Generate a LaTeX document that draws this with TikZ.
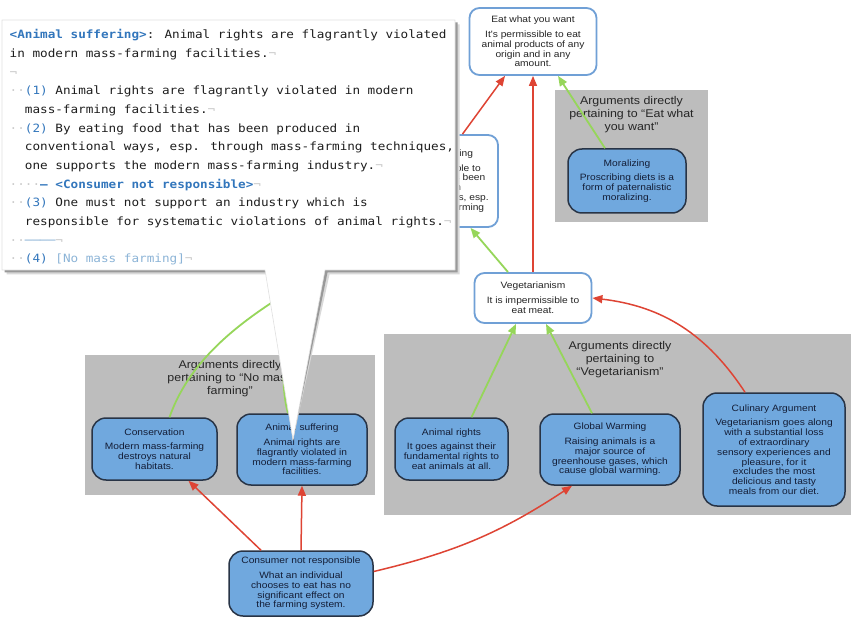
\documentclass[tikz,border=0pt]{standalone}
\usepackage{fontspec}
\usepackage{tikz}
\usetikzlibrary{arrows.meta}
\setmainfont{Liberation Sans}
\newfontfamily\diagfont[FakeStretch=1.11]{Liberation Sans}
\newfontfamily\codefont[FakeStretch=1.11]{DejaVu Sans Mono}

\begin{document}
\begin{tikzpicture}
		[x=1pt,y=-1pt,line join=round,
		%Styles
		claim/.style={draw=claimline,fill=white,line width=1.8pt,rounded corners=10pt,align=center,text=black!85,font=\diagfont\fontsize{9.2}{9.8}\selectfont,inner sep=0pt},
		argument/.style={draw=argline,fill=argfill,line width=1.5pt,rounded corners=14pt,align=center,text=argtext,font=\diagfont\fontsize{9.2}{9.8}\selectfont,inner sep=0pt},
		group/.style={fill=groupgray,inner sep=0pt},
		group title/.style={align=center,text=black!85,font=\diagfont\fontsize{11.2}{13}\selectfont},
		attack/.style={draw=attackred,line width=1.5pt,-{Triangle[length=10pt,width=8pt]}},
		support/.style={draw=supportgreen,line width=1.8pt,-{Triangle[length=10pt,width=8pt]}},
		code line/.style={anchor=base west,inner sep=0pt,text=codetext,font=\codefont\fontsize{11.4}{13}\selectfont}
		]
		
		%Colors
		\definecolor{claimline}{RGB}{112,160,214}
		\definecolor{argline}{RGB}{40,52,70}
		\definecolor{argfill}{RGB}{112,168,222}
		\definecolor{argtext}{RGB}{20,30,55}
		\definecolor{groupgray}{RGB}{189,189,189}
		\definecolor{attackred}{RGB}{222,68,52}
		\definecolor{supportgreen}{RGB}{150,214,90}
		\definecolor{codetext}{RGB}{30,30,30}
		\definecolor{codeblue}{RGB}{50,118,188}
		\definecolor{lightcode}{RGB}{140,180,215}
		\definecolor{markgray}{RGB}{200,200,200}
		
		\fill[white] (0,0) rectangle (851,620);
		\useasboundingbox (0,0) rectangle (851,620);
		
		%Groups
		\node[group,minimum width=153pt,minimum height=132pt] (grpeat) at (631.5,156) {};
		\node[group title] (grpeatlabel) at (631.5,115) {Arguments directly\\pertaining to “Eat what\\you want”};
		\node[group,minimum width=467pt,minimum height=181pt] (grpveg) at (617.5,424.5) {};
		\node[group title] (grpveglabel) at (620,360) {Arguments directly\\pertaining to\\“Vegetarianism”};
		\node[group,minimum width=290pt,minimum height=140pt] (grpmass) at (230,425) {};
		\node[group title] (grpmasslabel) at (230,379) {Arguments directly\\pertaining to “No mass\\farming”};
		
		%Statements
		\node[claim,minimum width=127pt,minimum height=67pt] (eat) at (533,41.5) {Eat what you want\\[5pt]It's permissible to eat\\animal products of any\\origin and in any\\amount.};
		\node[claim,minimum width=127pt,minimum height=92pt] (nomass) at (434.5,181) {No mass farming\\[5pt]It is impermissible to\\eat food that has been\\produced in\\conventional ways, esp.\\through mass-farming};
		\node[claim,minimum width=117pt,minimum height=50pt] (veg) at (533,298) {Vegetarianism\\[5pt]It is impermissible to\\eat meat.};
		
		%Arguments
		\node[argument,minimum width=118pt,minimum height=64pt] (moral) at (627,181) {Moralizing\\[5pt]Proscribing diets is a\\form of paternalistic\\moralizing.};
		\node[argument,minimum width=113pt,minimum height=62pt] (rights) at (451.5,449) {Animal rights\\[5pt]It goes against their\\fundamental rights to\\eat animals at all.};
		\node[argument,minimum width=140pt,minimum height=71pt] (warming) at (610,449.5) {Global Warming\\[5pt]Raising animals is a\\major source of\\greenhouse gases, which\\cause global warming.};
		\node[argument,minimum width=142pt,minimum height=113pt] (culinary) at (774,449.5) {Culinary Argument\\[5pt]Vegetarianism goes along\\with a substantial loss\\of extraordinary\\sensory experiences and\\pleasure, for it\\excludes the most\\delicious and tasty\\meals from our diet.};
		\node[argument,minimum width=125pt,minimum height=62pt] (conserv) at (154.5,449) {Conservation\\[5pt]Modern mass-farming\\destroys natural\\habitats.};
		\node[argument,minimum width=130pt,minimum height=71pt] (suffering) at (302,449.5) {Animal suffering\\[5pt]Animal rights are\\flagrantly violated in\\modern mass-farming\\facilities.};
		\node[argument,minimum width=144pt,minimum height=65pt] (consumer) at (301,583.5) {Consumer not responsible\\[5pt]What an individual\\chooses to eat has no\\significant effect on\\the farming system.};
		
		%Relations
		\draw[attack] ([xshift=28pt]nomass.north) -- ([xshift=-28pt]eat.south);
		\draw[attack] (veg.north) -- (eat.south);
		\draw[support] ([xshift=-22pt]moral.north) -- ([xshift=25pt]eat.south);
		\draw[support] ([xshift=-25pt]veg.north) -- ([xshift=36pt]nomass.south);
		\draw[attack] ([xshift=-29pt]culinary.north) to[bend right=25] (veg.east);
		\draw[support] ([xshift=20pt]rights.north) -- ([xshift=-17pt]veg.south);
		\draw[support] ([xshift=-18pt]warming.north) -- ([xshift=13pt]veg.south);
		\draw[attack] ([xshift=-40pt]consumer.north) -- ([xshift=34pt]conserv.south);
		\draw[attack] (consumer.north) -- (suffering.south);
		\draw[attack] ([yshift=12pt]consumer.east) to[bend right=10] ([xshift=-38pt]warming.south);
		\draw[support] ([xshift=15pt]conserv.north) .. controls (200,330) and (300,285) .. ([xshift=-30pt]nomass.south);
		\draw[support] ([xshift=-14pt]suffering.north) .. controls (272,355) and (295,225) .. ([xshift=-5pt]nomass.south);
		
		%Callout with the argument's source
		\coordinate (tip) at (293,440);
		\fill[black!15,shift={(4.5,4.5)}] (2,20) -- (455,20) -- (455,270) -- (325,270) -- (tip) -- (265,270) -- (2,270) -- cycle;
		\fill[black!40,shift={(2.5,2.5)}] (2,20) -- (455,20) -- (455,270) -- (325,270) -- (tip) -- (265,270) -- (2,270) -- cycle;
		\draw[fill=white,draw=black!12,line width=.6pt] (2,20) -- (455,20) -- (455,270) -- (325,270) -- (tip) -- (265,270) -- (2,270) -- cycle;
		
		\node[code line] (code1) at (9.5,39) {\textcolor{codeblue}{\bfseries <Animal suffering>}: Animal rights are flagrantly violated};
		\node[code line] (code2) at (9.5,57.65) {in modern mass-farming facilities.\textcolor{markgray}{¬}};
		\node[code line] (code3) at (9.5,76.3) {\textcolor{markgray}{¬}};
		\node[code line] (code4) at (9.5,94.95) {\textcolor{markgray}{··}\textcolor{codeblue}{(1)} Animal rights are flagrantly violated in modern};
		\node[code line] (code5) at (24.7,113.6) {mass-farming facilities.\textcolor{markgray}{¬}};
		\node[code line] (code6) at (9.5,132.25) {\textcolor{markgray}{··}\textcolor{codeblue}{(2)} By eating food that has been produced in};
		\node[code line] (code7) at (24.7,150.9) {conventional ways, esp. through mass-farming techniques,};
		\node[code line] (code8) at (24.7,169.55) {one supports the modern mass-farming industry.\textcolor{markgray}{¬}};
		\node[code line] (code9) at (9.5,188.2) {\textcolor{markgray}{····}\textcolor{codeblue}{\bfseries – <Consumer not responsible>}\textcolor{markgray}{¬}};
		\node[code line] (code10) at (9.5,206.85) {\textcolor{markgray}{··}\textcolor{codeblue}{(3)} One must not support an industry which is};
		\node[code line] (code11) at (24.7,225.5) {responsible for systematic violations of animal rights.\textcolor{markgray}{¬}};
		\node[code line] (code12) at (9.5,244.15) {\textcolor{markgray}{··}\textcolor{lightcode}{────}\textcolor{markgray}{¬}};
		\node[code line] (code13) at (9.5,262.8) {\textcolor{markgray}{··}\textcolor{codeblue}{(4)} \textcolor{lightcode}{[No mass farming]}\textcolor{markgray}{¬}};
	\end{tikzpicture}
\end{document}
